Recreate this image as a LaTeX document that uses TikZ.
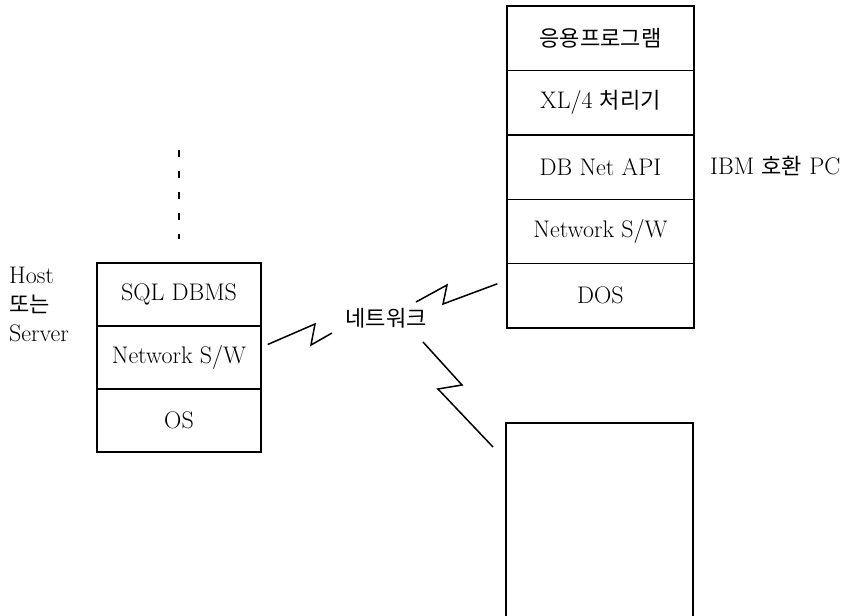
\documentclass[tikz,border=0pt]{standalone}
\usepackage{fontspec}
\usetikzlibrary{calc}
\newfontfamily\kr[Scale=0.92]{Noto Sans CJK KR}
\begin{document}
\begin{tikzpicture}[x=1pt,y=-1pt,
  every node/.style={font=\fontsize{24}{28}\selectfont},
  rcell/.style={draw,line width=1.4pt,inner sep=0pt,minimum width=187pt,minimum height=64.4pt,anchor=center},
  lcell/.style={draw,line width=1.4pt,inner sep=0pt,minimum width=164pt,minimum height=63pt,anchor=center},
  sidetext/.style={inner sep=0pt,anchor=west},
  bolt/.style={line width=1.5pt,line join=miter}]
\useasboundingbox (0,0) rectangle (855,616);

% client stack
\node[rcell] (app) at (600.5,38.2) {{\kr 응용프로그램}};
\node[rcell] (xl)  at (600.5,102.6) {XL/4 {\kr 처리기}};
\node[rcell] (api) at (600.5,167.0) {DB Net API};
\node[rcell] (rnet) at (600.5,231.4) {Network S/W};
\node[rcell] (dos) at (600.5,295.8) {DOS};
\node[sidetext] (pc) at (710,166) {IBM {\kr 호환} PC};

% server stack
\node[lcell] (sql) at (179,294.5) {SQL DBMS};
\node[lcell] (lnet) at (179,357.5) {Network S/W};
\node[lcell] (os) at (179,420.5) {OS};
\node[sidetext] (host) at (9,275) {Host};
\node[sidetext] (or) at (9,304) {\kr 또는};
\node[sidetext] (server) at (9,333) {Server};

% continuation above the server
\coordinate (dtop) at (179,150);
\draw[line width=1.5pt,dash pattern=on 7pt off 14pt] (dtop) -- ($(sql.north)+(0,-23)$);

% further station, open at the bottom
\coordinate (b1) at (506,620);
\coordinate (b2) at (506,423);
\coordinate (b3) at (693,423);
\coordinate (b4) at (693,620);
\draw[line width=1.4pt] (b1) -- (b2) -- (b3) -- (b4);

% network
\node[inner sep=0pt] (netw) at (386,318) {\kr 네트워크};

\draw[bolt] ($(lnet.east)+(6,-13)$) -- (315,324) -- (311,345) -- (332,333);
\draw[bolt] (416,302) -- (447,285) -- (443,304) -- ($(dos.west)+(-9,-12)$);
\draw[bolt] (423,342) -- (462,385) -- (438,389) -- (493,447);
\end{tikzpicture}
\end{document}
